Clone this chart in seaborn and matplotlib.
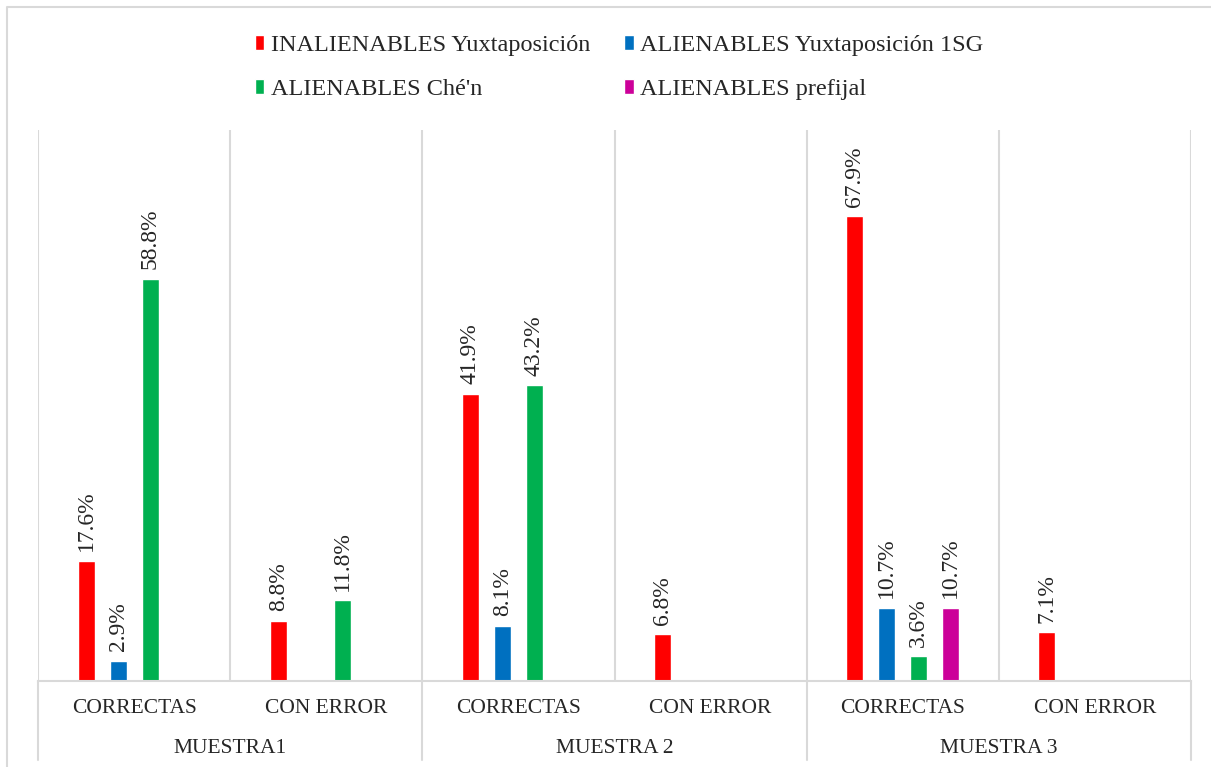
import pandas as pd
import numpy as np
import seaborn as sns
import matplotlib.pyplot as plt
import matplotlib.transforms as mtransforms
from matplotlib.lines import Line2D

sns.set_style('white')
plt.rcParams['font.family'] = ['Liberation Serif', 'DejaVu Serif']

categories = ['M1 CORRECTAS', 'M1 CON ERROR', 'M2 CORRECTAS', 'M2 CON ERROR', 'M3 CORRECTAS', 'M3 CON ERROR']
tick_labels = ['CORRECTAS', 'CON ERROR'] * 3
groups = ['MUESTRA1', 'MUESTRA 2', 'MUESTRA 3']
series = ['INALIENABLES Yuxtaposición', 'ALIENABLES Yuxtaposición 1SG', "ALIENABLES Ché'n", 'ALIENABLES prefijal']
inal_yux = [17.6, 8.8, 41.9, 6.8, 67.9, 7.1]
al_yux_1sg = [2.9, np.nan, 8.1, np.nan, 10.7, np.nan]
al_chen = [58.8, 11.8, 43.2, np.nan, 3.6, np.nan]
al_prefijal = [np.nan, np.nan, np.nan, np.nan, 10.7, np.nan]
colors = ['#FF0000', '#0070C0', '#00B050', '#CC0099']

df = pd.DataFrame({
    'cat': categories * 4,
    'serie': np.repeat(series, len(categories)),
    'valor': inal_yux + al_yux_1sg + al_chen + al_prefijal,
}).dropna()

fig = plt.figure(figsize=(12.11, 7.67), dpi=100)
ax = fig.add_axes([38 / 1211, 86 / 767, 1153 / 1211, 551 / 767])

sns.barplot(data=df, x='cat', y='valor', hue='serie', order=categories, hue_order=series,
            palette=colors, saturation=1, width=0.667, gap=0.47, ax=ax, legend=True)

for c in ax.containers:
    ax.bar_label(c, fmt='%.1f%%', rotation=90, padding=7, fontsize=17)

ax.set_xlim(-0.5, 5.5)
ax.set_ylim(0, 80.5)
ax.set_xlabel('')
ax.set_ylabel('')
ax.set_yticks([])
ax.set_xticks(range(6))
ax.set_xticklabels(tick_labels, fontsize=15.5)
ax.tick_params(axis='x', length=0, pad=13)
for s in ['top', 'left', 'right']:
    ax.spines[s].set_visible(False)
ax.spines['bottom'].set_color('#D9D9D9')
ax.spines['bottom'].set_linewidth(1.5)

grid_col = '#D9D9D9'
trans = mtransforms.blended_transform_factory(ax.transData, ax.transAxes)
for x in np.arange(-0.5, 6, 1):
    ax.axvline(x, color=grid_col, lw=1.5, zorder=0)
for x in [-0.5, 1.5, 3.5, 5.5]:
    ax.add_line(Line2D([x, x], [0, -0.143], transform=trans, color=grid_col, lw=1.5, clip_on=False))
for i, g in enumerate(groups):
    ax.text(2 * i + 0.5, -0.123, g, transform=trans, ha='center', va='center', fontsize=15.5)

handles, labels = ax.get_legend_handles_labels()
order = [0, 2, 1, 3]
ax.legend([handles[i] for i in order], [labels[i] for i in order], ncol=2, loc='center',
          bbox_to_anchor=(0.511, 0.912), bbox_transform=fig.transFigure, frameon=False,
          fontsize=17.5, handlelength=0.4, handleheight=0.6, handletextpad=0.25,
          columnspacing=1.4, labelspacing=0.95)

# outer chart border (cut at right and bottom)
fig.add_artist(Line2D([7 / 1211, 7 / 1211, 1.0], [0.0, 1 - 7 / 767, 1 - 7 / 767],
                      transform=fig.transFigure, color=grid_col, lw=1.5))

fig.savefig('out.png', dpi=100)
